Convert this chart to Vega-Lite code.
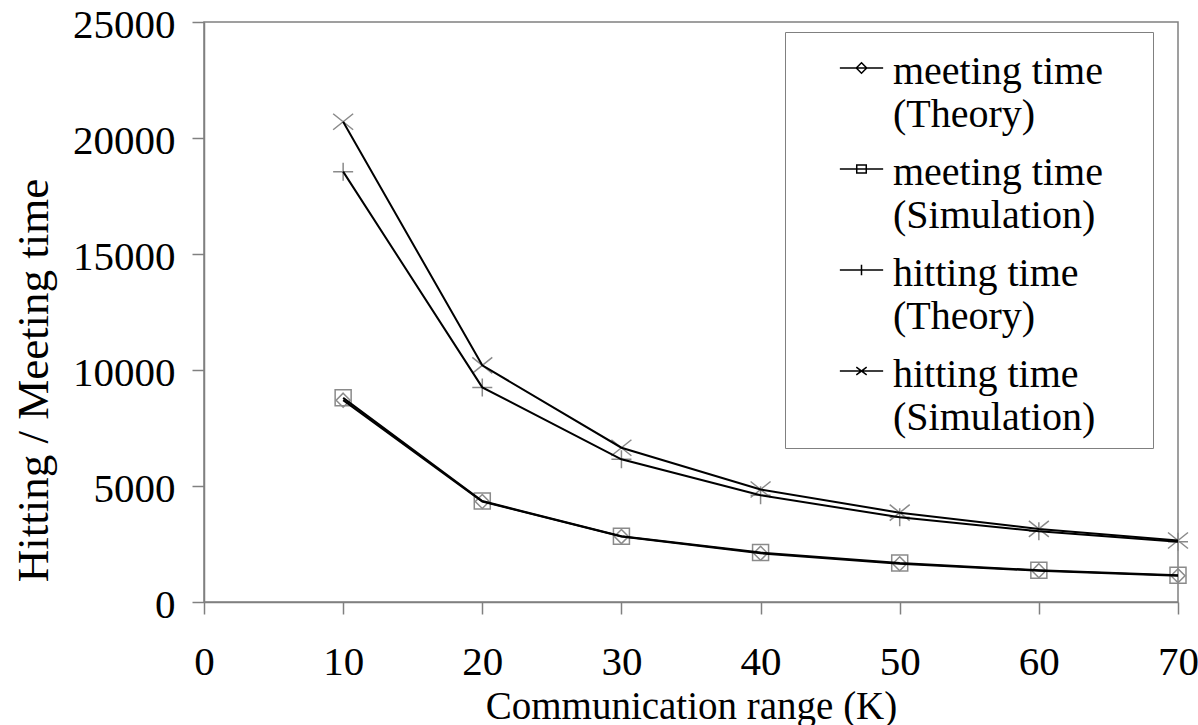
{
  "$schema": "https://vega.github.io/schema/vega-lite/v6.json",
  "width": 974,
  "height": 580,
  "autosize": "none",
  "padding": {"left": 204, "top": 22, "right": 20, "bottom": 123},
  "background": "white",
  "config": {
    "font": "Liberation Serif",
    "view": {"stroke": "#808080", "strokeWidth": 1.5},
    "style": {"guide-label": {"lineHeight": 43}}
  },
  "data": {
    "values": [
      {"K": 10, "T": 8700, "series": "meeting time (Theory)"},
      {"K": 20, "T": 4330, "series": "meeting time (Theory)"},
      {"K": 30, "T": 2820, "series": "meeting time (Theory)"},
      {"K": 40, "T": 2100, "series": "meeting time (Theory)"},
      {"K": 50, "T": 1650, "series": "meeting time (Theory)"},
      {"K": 60, "T": 1350, "series": "meeting time (Theory)"},
      {"K": 70, "T": 1130, "series": "meeting time (Theory)"},
      {"K": 10, "T": 8800, "series": "meeting time (Simulation)"},
      {"K": 20, "T": 4350, "series": "meeting time (Simulation)"},
      {"K": 30, "T": 2830, "series": "meeting time (Simulation)"},
      {"K": 40, "T": 2130, "series": "meeting time (Simulation)"},
      {"K": 50, "T": 1680, "series": "meeting time (Simulation)"},
      {"K": 60, "T": 1370, "series": "meeting time (Simulation)"},
      {"K": 70, "T": 1150, "series": "meeting time (Simulation)"},
      {"K": 10, "T": 18550, "series": "hitting time (Theory)"},
      {"K": 20, "T": 9250, "series": "hitting time (Theory)"},
      {"K": 30, "T": 6150, "series": "hitting time (Theory)"},
      {"K": 40, "T": 4600, "series": "hitting time (Theory)"},
      {"K": 50, "T": 3650, "series": "hitting time (Theory)"},
      {"K": 60, "T": 3050, "series": "hitting time (Theory)"},
      {"K": 70, "T": 2600, "series": "hitting time (Theory)"},
      {"K": 10, "T": 20700, "series": "hitting time (Simulation)"},
      {"K": 20, "T": 10200, "series": "hitting time (Simulation)"},
      {"K": 30, "T": 6650, "series": "hitting time (Simulation)"},
      {"K": 40, "T": 4850, "series": "hitting time (Simulation)"},
      {"K": 50, "T": 3850, "series": "hitting time (Simulation)"},
      {"K": 60, "T": 3150, "series": "hitting time (Simulation)"},
      {"K": 70, "T": 2650, "series": "hitting time (Simulation)"}
    ]
  },
  "encoding": {
    "x": {
      "field": "K",
      "type": "quantitative",
      "scale": {"domain": [0, 70], "nice": false, "zero": true},
      "axis": {
        "values": [0, 10, 20, 30, 40, 50, 60, 70],
        "title": "Communication range (K)",
        "grid": false,
        "domainColor": "#808080",
        "domainWidth": 1.5,
        "tickColor": "#808080",
        "tickWidth": 1.5,
        "tickSize": 12,
        "labelFont": "Liberation Serif",
        "labelFontSize": 41,
        "labelColor": "black",
        "labelPadding": 28,
        "labelFlush": false,
        "labelOverlap": false,
        "titleFont": "Liberation Serif",
        "titleFontSize": 39,
        "titleFontWeight": "normal",
        "titleColor": "black",
        "titleY": 116,
        "titleBaseline": "alphabetic"
      }
    },
    "y": {
      "field": "T",
      "type": "quantitative",
      "scale": {"domain": [0, 25000], "nice": false},
      "axis": {
        "values": [0, 5000, 10000, 15000, 20000, 25000],
        "format": "d",
        "title": "Hitting / Meeting time",
        "grid": false,
        "domainColor": "#808080",
        "domainWidth": 1.5,
        "tickColor": "#808080",
        "tickWidth": 1.5,
        "tickSize": 12,
        "labelFont": "Liberation Serif",
        "labelFontSize": 41,
        "labelColor": "black",
        "labelPadding": 17,
        "labelOffset": 3,
        "labelOverlap": false,
        "titleFont": "Liberation Serif",
        "titleFontSize": 45,
        "titleFontWeight": "normal",
        "titleColor": "black",
        "titleAngle": 270,
        "titleX": -157,
        "titleY": 358,
        "titleAlign": "center",
        "titleBaseline": "alphabetic"
      }
    }
  },
  "resolve": {"scale": {"shape": "independent"}, "legend": {"shape": "independent"}},
  "layer": [
    {
      "mark": {"type": "point", "filled": false, "size": 300, "strokeWidth": 1.5, "color": "black", "opacity": 0},
      "encoding": {
        "shape": {
          "field": "series",
          "type": "nominal",
          "scale": {
            "domain": ["meeting time (Theory)", "meeting time (Simulation)", "hitting time (Theory)", "hitting time (Simulation)"],
            "range": [
              "M-2.5,-1.85H2.5M0,-2.45L0.6,-1.85L0,-1.25L-0.6,-1.85Z",
              "M-2.5,-1.85H2.5M-0.55,-2.3H0.55V-1.4H-0.55Z",
              "M-2.5,-1.85H2.5M0,-2.45V-1.25",
              "M-2.5,-1.85H2.5M-0.6,-2.3L0.6,-1.4M-0.6,-1.4L0.6,-2.3"
            ]
          },
          "legend": {
            "orient": "none",
            "legendX": 581,
            "legendY": 10,
            "title": "\u2800",
            "titleFontSize": 12,
            "titlePadding": 10,
            "titleColor": "white",
            "strokeColor": "#808080",
            "padding": 10,
            "symbolSize": 300,
            "symbolOpacity": 1,
            "symbolStrokeColor": "black",
            "symbolStrokeWidth": 1.5,
            "symbolFillColor": "transparent",
            "symbolOffset": 46.5,
            "labelOffset": 11.5,
            "labelFont": "Liberation Serif",
            "labelFontSize": 40,
            "labelColor": "black",
            "labelBaseline": "alphabetic",
            "labelLimit": 0,
            "rowPadding": 18,
            "labelExpr": "[slice(datum.label, 0, indexof(datum.label, ' (')) + '\u2003\u200b', slice(datum.label, indexof(datum.label, ' (') + 1)]"
          }
        }
      }
    },
    {
      "mark": {"type": "point", "filled": false, "size": 400, "strokeWidth": 1.5, "color": "#8a8a8a", "opacity": 1},
      "encoding": {
        "shape": {
          "field": "series",
          "type": "nominal",
          "scale": {
            "domain": ["meeting time (Theory)", "meeting time (Simulation)", "hitting time (Theory)", "hitting time (Simulation)"],
            "range": [
              "M0,-0.7L0.7,0L0,0.7L-0.7,0Z",
              "M-0.8,-0.8H0.8V0.8H-0.8Z",
              "M-1,0H1M0,-0.9V0.9",
              "M-1,-0.8L1,0.8M-1,0.8L1,-0.8"
            ]
          },
          "legend": null
        }
      }
    },
    {
      "mark": {"type": "line", "color": "black", "strokeWidth": 2},
      "encoding": {"detail": {"field": "series"}}
    }
  ]
}
